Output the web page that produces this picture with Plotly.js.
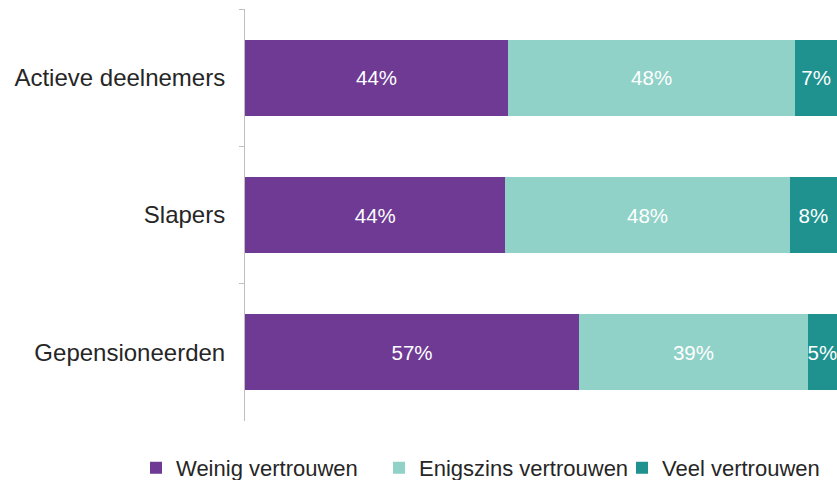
<!DOCTYPE html>
<html>
<head>
<meta charset="utf-8">
<script src="https://cdn.plot.ly/plotly-3.0.1.min.js"></script>
<style>html,body{margin:0;padding:0;background:#fff;}#chart{width:837px;height:480px;}</style>
</head>
<body>
<div id="chart"></div>
<script>
const categories = ["Actieve deelnemers", "Slapers", "Gepensioneerden"];
const weinig = [44, 44, 57];
const enigszins = [48, 48, 39];
const veel = [7, 8, 5];
const seriesNames = ["Weinig vertrouwen", "Enigszins vertrouwen", "Veel vertrouwen"];
const seriesColors = ["#6E3A94", "#90D2C8", "#1F9290"];

const seriesValues = [weinig, enigszins, veel];
const traces = seriesValues.map((vals, i) => ({
  type: "bar",
  orientation: "h",
  name: seriesNames[i],
  y: categories,
  x: vals,
  text: vals.map(v => v + "%"),
  textposition: "inside",
  insidetextanchor: "middle",
  textangle: 0,
  constraintext: "none",
  textfont: {family: "Liberation Sans, Arial, sans-serif", size: 20.5, color: "#ffffff"},
  marker: {color: seriesColors[i], line: {width: 0}},
  hoverinfo: "skip"
}));

const layout = {
  width: 837, height: 480,
  barmode: "stack",
  barnorm: "percent",
  bargap: 0.447,
  margin: {l: 245, r: 0, t: 9, b: 59, pad: 0, autoexpand: false},
  paper_bgcolor: "#ffffff",
  plot_bgcolor: "#ffffff",
  font: {family: "Liberation Sans, Arial, sans-serif", color: "#262626"},
  showlegend: true,
  legend: {
    orientation: "h",
    xref: "paper", yref: "paper",
    x: -0.1841, xanchor: "left",
    y: -0.114, yanchor: "middle",
    font: {size: 22, color: "#262626"},
    traceorder: "normal",
    itemwidth: 30,
    entrywidth: 198,
    borderwidth: 0
  },
  xaxis: {
    range: [0, 100],
    visible: false,
    showgrid: false,
    zeroline: false,
    fixedrange: true
  },
  yaxis: {
    type: "category",
    autorange: "reversed",
    showline: true,
    linecolor: "#bfbfbf",
    linewidth: 1,
    ticks: "outside",
    tickson: "boundaries",
    ticklen: 5,
    tickcolor: "#bfbfbf",
    ticklabelstandoff: 14,
    tickfont: {size: 24, color: "#262626"},
    showgrid: false,
    zeroline: false,
    fixedrange: true
  }
};

Plotly.newPlot("chart", traces, layout, {displayModeBar: false, staticPlot: true});
</script>
</body>
</html>
